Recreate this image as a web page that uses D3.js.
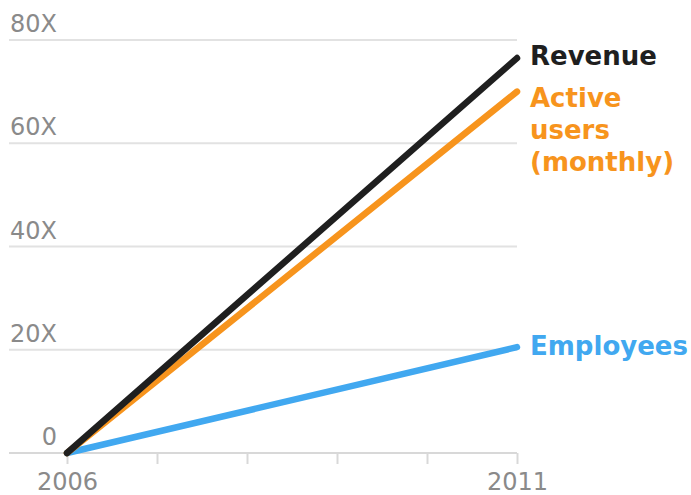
<!DOCTYPE html>
<html>
<head>
<meta charset="utf-8">
<script src="https://cdn.jsdelivr.net/npm/d3@7/dist/d3.min.js"></script>
<style>
  html, body { margin: 0; padding: 0; background: #fff; }
  svg { display: block; font-family: "DejaVu Sans", sans-serif; }
</style>
</head>
<body>
<svg id="chart" width="691" height="495"></svg>
<script>
// Growth multiples, 2006 = baseline
const years = [2006, 2011];
const revenue = [0, 76.5];
const activeUsers = [0, 70];
const employees = [0, 20.5];
const yTicks = [0, 20, 40, 60, 80];
const xTicks = [2006, 2007, 2008, 2009, 2010, 2011];
const xTickLabels = ["2006", "", "", "", "", "2011"];

const series = [
  { name: ["Revenue"], values: revenue, color: "#1f1f1f", dy: 7 },
  { name: ["Active", "users", "(monthly)"], values: activeUsers, color: "#f7941d", dy: 15 },
  { name: ["Employees"], values: employees, color: "#41a8f0", dy: 8 }
];

const svg = d3.select("#chart");

const x = d3.scaleLinear().domain([2006, 2011]).range([67, 517]);
const y = d3.scaleLinear().domain([0, 80]).range([453, 40]);

// horizontal gridlines
svg.append("g")
  .selectAll("line")
  .data(yTicks)
  .join("line")
  .attr("x1", 9).attr("x2", 517)
  .attr("y1", d => y(d)).attr("y2", d => y(d))
  .attr("stroke", d => d === 0 ? "#d8d8d8" : "#e2e2e2")
  .attr("stroke-width", 2);

// y tick labels sitting above their gridlines
svg.append("g")
  .selectAll("text")
  .data(yTicks)
  .join("text")
  .attr("x", 57)
  .attr("y", d => y(d) - 8)
  .attr("text-anchor", "end")
  .attr("fill", "#8a8a8a")
  .style("font-size", "24px")
  .text(d => d === 0 ? "0" : d + "X");

// x axis ticks and labels
const xAxis = d3.axisBottom(x)
  .tickValues(xTicks)
  .tickSize(11)
  .tickPadding(9)
  .tickFormat((d, i) => xTickLabels[i]);

const gx = svg.append("g")
  .attr("transform", `translate(0,${y(0)})`)
  .call(xAxis);
gx.select(".domain").remove();
gx.selectAll(".tick line").attr("stroke", "#d8d8d8").attr("stroke-width", 2);
gx.selectAll(".tick text")
  .attr("fill", "#8a8a8a")
  .attr("dy", "0.71em")
  .style("font-family", "DejaVu Sans, sans-serif")
  .style("font-size", "24px");

// series lines
const line = d3.line()
  .x((d, i) => x(years[i]))
  .y(d => y(d));

svg.append("g")
  .selectAll("path")
  .data(series.slice().reverse())
  .join("path")
  .attr("d", s => line(s.values))
  .attr("fill", "none")
  .attr("stroke", s => s.color)
  .attr("stroke-width", 6.5)
  .attr("stroke-linecap", "round");

// direct labels at line ends
const labels = svg.append("g")
  .selectAll("text")
  .data(series)
  .join("text")
  .attr("x", x(years[1]) + 13)
  .attr("y", s => y(s.values[s.values.length - 1]) + s.dy)
  .attr("fill", s => s.color)
  .style("font-size", "26px")
  .style("font-weight", "bold");

labels.selectAll("tspan")
  .data(s => s.name)
  .join("tspan")
  .attr("x", x(years[1]) + 13)
  .attr("dy", (d, i) => i === 0 ? 0 : 32)
  .text(d => d);
</script>
</body>
</html>
